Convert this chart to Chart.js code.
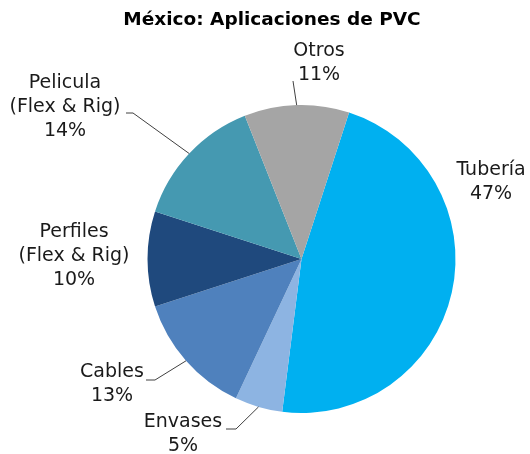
<!DOCTYPE html>
<html>
<head>
<meta charset="utf-8">
<script src="https://cdn.jsdelivr.net/npm/chart.js@4"></script>
<style>
  html, body { margin: 0; padding: 0; background: #fff; }
  #wrap { width: 530px; height: 454px; position: relative; }
</style>
</head>
<body>
<div id="wrap"><canvas id="c"></canvas></div>
<script>
// ── DATA ───────────────────────────────────────────────────
const title = 'México: Aplicaciones de PVC';
const categories = ['Tubería', 'Envases', 'Cables', 'Perfiles', 'Pelicula', 'Otros'];
const labelLines = [['Tubería'], ['Envases'], ['Cables'], ['Perfiles', '(Flex & Rig)'], ['Pelicula', '(Flex & Rig)'], ['Otros']];
const shares = [47, 5, 13, 10, 14, 11];
const colors = ['#00B0F0', '#8DB4E2', '#4F81BD', '#1F497D', '#4599B1', '#A5A5A5'];

// ── LABEL LAYOUT (x = text centre, y = first line, elbow = leader start) ──
const labelPos = [
  { x: 491, y: 170 },
  { x: 183, y: 422, elbow: [[226, 429], [236, 429]] },
  { x: 112, y: 372, elbow: [[146, 380], [155, 380]] },
  { x: 74,  y: 232 },
  { x: 65,  y: 83,  elbow: [[126, 113], [133, 113]] },
  { x: 319, y: 51,  elbow: [[293, 81]] }
];

const font = '19px "DejaVu Sans", Verdana, sans-serif';
const ink = '#1a1a1a';

// ── LABELS + LEADERS ───────────────────────────────────────
const labelPlugin = {
  id: 'pieLabels',
  afterDraw(chart) {
    const ctx = chart.ctx;
    const arcs = chart.getDatasetMeta(0).data;
    ctx.save();

    // title
    ctx.fillStyle = '#000';
    ctx.font = 'bold 18.5px "DejaVu Sans", Verdana, sans-serif';
    ctx.textAlign = 'center';
    ctx.textBaseline = 'middle';
    ctx.fillText(title, 272, 20);

    arcs.forEach((arc, i) => {
      const p = labelPos[i];
      const lines = labelLines[i].concat([shares[i] + '%']);
      ctx.font = font;
      ctx.fillStyle = ink;
      ctx.textAlign = 'center';
      ctx.textBaseline = 'middle';
      lines.forEach((t, k) => ctx.fillText(t, p.x, p.y + k * 24));

      if (p.elbow) {
        const mid = (arc.startAngle + arc.endAngle) / 2;
        const ex = arc.x + Math.cos(mid) * arc.outerRadius;
        const ey = arc.y + Math.sin(mid) * arc.outerRadius;
        ctx.beginPath();
        ctx.moveTo(p.elbow[0][0], p.elbow[0][1]);
        p.elbow.slice(1).forEach(pt => ctx.lineTo(pt[0], pt[1]));
        ctx.lineTo(ex, ey);
        ctx.strokeStyle = '#404040';
        ctx.lineWidth = 1;
        ctx.stroke();
      }
    });
    ctx.restore();
  }
};

new Chart(document.getElementById('c'), {
  type: 'pie',
  data: {
    labels: categories,
    datasets: [{ data: shares, backgroundColor: colors, borderWidth: 0, hoverOffset: 0 }]
  },
  options: {
    responsive: true,
    maintainAspectRatio: false,
    animation: false,
    rotation: 18,
    layout: { padding: { left: 147.5, right: 74.5, top: 105, bottom: 41 } },
    plugins: { legend: { display: false }, tooltip: { enabled: false }, title: { display: false } }
  },
  plugins: [labelPlugin]
});
</script>
</body>
</html>
